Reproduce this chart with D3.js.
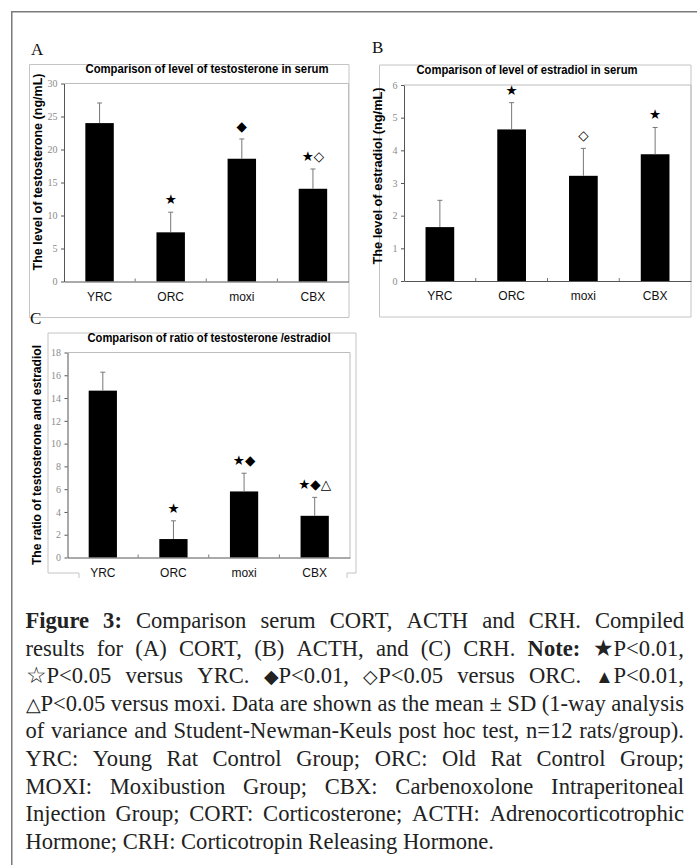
<!DOCTYPE html>
<html><head><meta charset="utf-8">
<script src="https://cdn.jsdelivr.net/npm/d3@7"></script>
<style>body{margin:0;background:#fff} svg{display:block}</style>
</head><body><svg id="c" width="697" height="865"></svg>
<script>
// ---------------- data ----------------
const categories = ["YRC", "ORC", "moxi", "CBX"];

const testoMean = [24.0, 7.45, 18.6, 14.05];
const testoSD   = [3.05, 3.05, 3.0, 3.0];
const testoSig  = ["", "★", "◆", "★◇"];
const testoTicks = [0, 5, 10, 15, 20, 25, 30];

const estraMean = [1.65, 4.64, 3.22, 3.88];
const estraSD   = [0.82, 0.82, 0.84, 0.82];
const estraSig  = ["", "★", "◇", "★"];
const estraTicks = [0, 1, 2, 3, 4, 5, 6];

const ratioMean = [14.65, 1.62, 5.8, 3.66];
const ratioSD   = [1.62, 1.6, 1.6, 1.62];
const ratioSig  = ["", "★", "★◆", "★◆△"];
const ratioTicks = [0, 2, 4, 6, 8, 10, 12, 14, 16, 18];

const captionLines = [
  "**Figure 3:** Comparison serum CORT, ACTH and CRH. Compiled",
  "results for (A) CORT, (B) ACTH, and (C) CRH. **Note:** ★P<0.01,",
  "☆P<0.05 versus YRC. {◆}P<0.01, {◇}P<0.05 versus ORC. {▲}P<0.01,",
  "{△}P<0.05 versus moxi. Data are shown as the mean ± SD (1-way analysis",
  "of variance and Student-Newman-Keuls post hoc test, n=12 rats/group).",
  "YRC: Young Rat Control Group; ORC: Old Rat Control Group;",
  "MOXI: Moxibustion Group; CBX: Carbenoxolone Intraperitoneal",
  "Injection Group; CORT: Corticosterone; ACTH: Adrenocorticotrophic",
  "Hormone; CRH: Corticotropin Releasing Hormone."
];

// ---------------- layout ----------------
const svg = d3.select("#c");
const SANS = "'Liberation Sans', Arial, sans-serif";
const SERIF = "'Liberation Serif', 'Times New Roman', serif";
const SYM = "'DejaVu Sans', sans-serif";

// outer frame
svg.append("path").attr("d", "M11.75,865V11.75H697")
  .attr("fill", "none").attr("stroke", "#7a7a7a").attr("stroke-width", 1.5);

const panels = [
  { letter: "A", letterPos: [31, 55],
    box: [29.5, 64.5, 349, 317.5], plot: [64, 83.5, 348.5, 281.5],
    title: "Comparison of level of testosterone in serum", titleX: 207, titleY: 73, titleLen: 243,
    ylabel: "The level of testosterone (ng/mL)", ylx: 37, yly: 172, ylLen: 197,
    mean: testoMean, sd: testoSD, sig: testoSig, ticks: testoTicks },
  { letter: "B", letterPos: [372, 53],
    box: [379.5, 65, 691, 317], plot: [404, 85, 691, 281],
    title: "Comparison of level of estradiol in serum", titleX: 527, titleY: 74, titleLen: 221,
    ylabel: "The level of estradiol (ng/mL)", ylx: 377, yly: 176, ylLen: 177,
    mean: estraMean, sd: estraSD, sig: estraSig, ticks: estraTicks },
  { letter: "C", letterPos: [30, 324],
    box: [48, 333, 356, 573], plot: [67.5, 352.5, 350, 557.5], gapBottom: [79, 347],
    title: "Comparison of ratio of testosterone /estradiol", titleX: 209, titleY: 342, titleLen: 243,
    ylabel: "The ratio of testosterone and estradiol", ylx: 36, yly: 455, ylLen: 220,
    mean: ratioMean, sd: ratioSD, sig: ratioSig, ticks: ratioTicks }
];

function drawPanel(p) {
  const g = svg.append("g");
  const [bx0, by0, bx1, by1] = p.box;
  const [px0, py0, px1, py1] = p.plot;
  // panel box
  let d;
  if (p.gapBottom) {
    const [ga, gb] = p.gapBottom;
    d = `M${ga},${by1 + 5}V${by1}H${bx0}V${by0}H${bx1}V${by1}H${gb}V${by1 + 5}`;
  } else {
    d = `M${bx0},${by0}H${bx1}V${by1}H${bx0}Z`;
  }
  g.append("path").attr("d", d).attr("fill", "none").attr("stroke", "#c4c4c4").attr("stroke-width", 1);

  const x = d3.scaleBand().domain(categories).range([px0, px1]).paddingInner(0.6).paddingOuter(0.3);
  const y = d3.scaleLinear().domain([0, d3.max(p.ticks)]).range([py1, py0]);

  // plot frame top/right
  g.append("path").attr("d", `M${px0},${py0}H${px1}V${py1}`)
    .attr("fill", "none").attr("stroke", "#bdbdbd").attr("stroke-width", 1);

  // bars
  g.selectAll("rect.bar").data(categories).join("rect").attr("class", "bar")
    .attr("x", c => x(c)).attr("width", x.bandwidth())
    .attr("y", (c, i) => y(p.mean[i])).attr("height", (c, i) => y(0) - y(p.mean[i]))
    .attr("fill", "#000");

  // error bars
  const cx = c => x(c) + x.bandwidth() / 2;
  g.selectAll("line.err").data(categories).join("line").attr("class", "err")
    .attr("x1", cx).attr("x2", cx)
    .attr("y1", (c, i) => y(p.mean[i])).attr("y2", (c, i) => y(p.mean[i] + p.sd[i]))
    .attr("stroke", "#777").attr("stroke-width", 1);
  g.selectAll("line.cap").data(categories).join("line").attr("class", "cap")
    .attr("x1", c => cx(c) - 2.5).attr("x2", c => cx(c) + 2.5)
    .attr("y1", (c, i) => y(p.mean[i] + p.sd[i])).attr("y2", (c, i) => y(p.mean[i] + p.sd[i]))
    .attr("stroke", "#777").attr("stroke-width", 1);

  // significance marks
  g.selectAll("text.sig").data(categories).join("text").attr("class", "sig")
    .attr("x", cx).attr("y", (c, i) => y(p.mean[i] + p.sd[i]) - 13)
    .attr("text-anchor", "middle").attr("dominant-baseline", "central")
    .attr("font-family", SYM).attr("font-size", 13.5).attr("fill", "#000")
    .text((c, i) => p.sig[i]);

  // y axis
  const ya = g.append("g").attr("transform", `translate(${px0},0)`)
    .call(d3.axisLeft(y).tickValues(p.ticks).tickSize(3).tickSizeOuter(0).tickPadding(3.5).tickFormat(d3.format("d")));
  ya.select(".domain").attr("stroke", "#555");
  ya.selectAll(".tick line").attr("stroke", "#555");
  ya.selectAll(".tick text").attr("font-family", SERIF).attr("font-size", 10).attr("fill", "#8a8a8a");

  // x axis
  const xa = g.append("g").attr("transform", `translate(0,${py1})`)
    .call(d3.axisBottom(x).tickSize(0).tickSizeOuter(0).tickPadding(10.5));
  xa.select(".domain").attr("stroke", "#555");
  xa.selectAll(".tick text").attr("font-family", SANS).attr("font-size", 12).attr("fill", "#111");
  // category boundary ticks
  g.selectAll("line.bt").data(d3.range(1, categories.length)).join("line").attr("class", "bt")
    .attr("x1", i => px0 + i * x.step()).attr("x2", i => px0 + i * x.step())
    .attr("y1", py1).attr("y2", py1 - 3).attr("stroke", "#777");

  // title
  g.append("text").attr("x", p.titleX).attr("y", p.titleY).attr("text-anchor", "middle")
    .attr("font-family", SANS).attr("font-weight", "bold").attr("font-size", 12.5).attr("fill", "#000")
    .attr("textLength", p.titleLen).attr("lengthAdjust", "spacingAndGlyphs")
    .text(p.title);
  // y label
  g.append("text").attr("transform", `translate(${p.ylx},${p.yly}) rotate(-90)`)
    .attr("text-anchor", "middle").attr("dominant-baseline", "central")
    .attr("font-family", SANS).attr("font-weight", "bold").attr("font-size", 13.5).attr("fill", "#000")
    .attr("textLength", p.ylLen).attr("lengthAdjust", "spacingAndGlyphs")
    .text(p.ylabel);
  // panel letter
  svg.append("text").attr("x", p.letterPos[0]).attr("y", p.letterPos[1])
    .attr("font-family", SERIF).attr("font-size", 17).attr("fill", "#111").text(p.letter);
}
panels.forEach(drawPanel);

// ---------------- caption (justified) ----------------
function parseLine(s, state) {
  const words = []; let cur = []; let run = null;
  for (let i = 0; i < s.length; i++) {
    const c = s[i];
    if (c === "*" && s[i + 1] === "*") { state.b = !state.b; i++; run = null; continue; }
    if (c === "{") { state.s = true; run = null; continue; }
    if (c === "}") { state.s = false; run = null; continue; }
    if (c === " ") { if (cur.length) { words.push(cur); cur = []; run = null; } continue; }
    if (!run) { run = { t: "", b: state.b, s: state.s }; cur.push(run); }
    run.t += c;
  }
  if (cur.length) words.push(cur);
  return words;
}
const capLeft = 25.5, capRight = 684, capW = capRight - capLeft;
const capY0 = 628, capDY = 27.6;
const state = { b: false, s: false };
const capG = svg.append("g").attr("font-family", SERIF).attr("fill", "#222");
const lines = captionLines.map(s => parseLine(s, state));
let fs = 20;
capG.attr("font-size", fs);
const lineNodes = lines.map((words, li) => words.map(w => {
  const t = capG.append("text").attr("y", capY0 + li * capDY);
  w.forEach(r => {
    const ts = t.append("tspan").text(r.t);
    if (r.b) ts.attr("font-weight", "bold");
    if (r.s) ts.attr("font-size", "82%");
  });
  return t;
}));
// fit the widest line
const natural = lineNodes.map(ws => d3.sum(ws, t => t.node().getComputedTextLength()) + (ws.length - 1) * fs * 0.25);
const scale = capW / d3.max(natural);
fs = fs * scale;
capG.attr("font-size", fs);
lineNodes.forEach((ws, li) => {
  const widths = ws.map(t => t.node().getComputedTextLength());
  const total = d3.sum(widths);
  const last = li === lineNodes.length - 1;
  const gap = last ? fs * 0.25 : (capW - total) / (ws.length - 1);
  let xx = capLeft;
  ws.forEach((t, i) => { t.attr("x", xx); xx += widths[i] + gap; });
});
</script>
</body></html>
